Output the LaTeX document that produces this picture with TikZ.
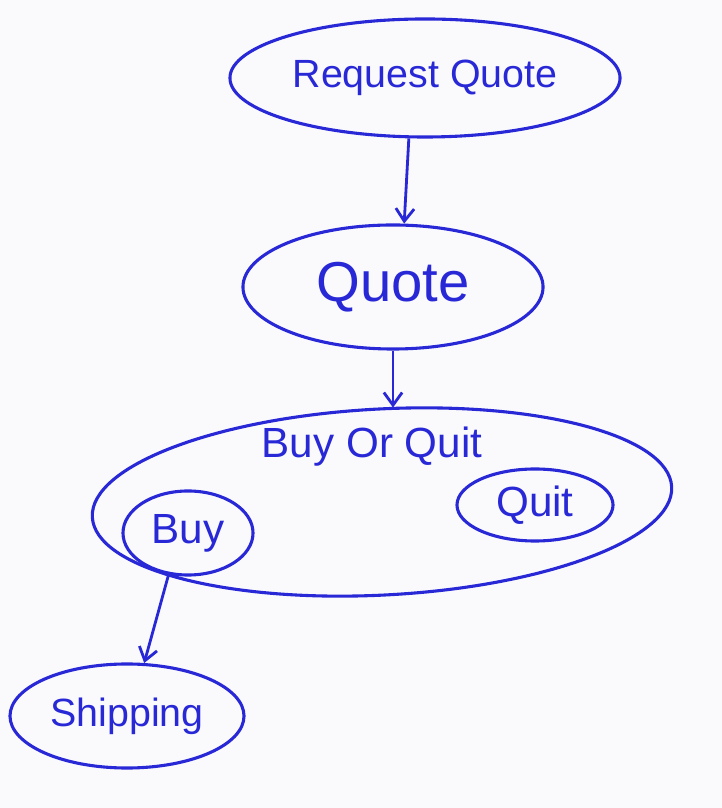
\documentclass[tikz,border=0pt]{standalone}
\usepackage{fontspec}
\setmainfont{Liberation Sans}
\usepackage{tikz}
\usetikzlibrary{arrows.meta, positioning, shapes.geometric}
\definecolor{pen}{RGB}{40, 40, 215}
\definecolor{board}{RGB}{250, 250, 252}

\begin{document}
\begin{tikzpicture}[
    x=0.025cm, y=0.025cm,
    >={Straight Barb[length=9pt, width=13pt]},
    oval/.style={ellipse, draw=pen, line width=2.2pt, text=pen, inner sep=0pt, font=\fontsize{30}{34}\selectfont},
    small/.style={oval, font=\fontsize{30}{34}\selectfont},
    arr/.style={->, line width=2pt, pen}
  ]

  % Board
  \fill[board] (0,0) rectangle (722,808);
  \useasboundingbox (0,0) rectangle (722,808);

  % States
  \node[oval, minimum width=9.75cm, minimum height=2.95cm, font=\fontsize{28}{32}\selectfont] (rq) at (425, 730) {Request Quote};
  \node[oval, minimum width=7.5cm, minimum height=3.1cm, font=\fontsize{40}{44}\selectfont] (q) at (393, 521) {Quote};
  \node[ellipse, draw=pen, line width=2.2pt, minimum width=14.5cm, minimum height=4.65cm, rotate=3] (boq) at (382, 306) {};
  \node[small, draw=none] (boq-label) at (372, 361) {Buy Or Quit};
  \node[small, minimum width=3.9cm, minimum height=1.8cm] (quit) at (535, 303) {Quit};
  \node[small, minimum width=3.25cm, minimum height=2.1cm] (buy) at (188, 275) {Buy};
  \node[oval, minimum width=5.85cm, minimum height=2.6cm, font=\fontsize{28}{32}\selectfont] (ship) at (127, 92) {Shipping};

  % Arrows
  \draw[arr] (rq.255) -- (q.80);
  \draw[arr] (q.south) -- (q.south |- boq.north);
  \draw[arr] (buy.245) -- (ship.72);

\end{tikzpicture}
\end{document}
